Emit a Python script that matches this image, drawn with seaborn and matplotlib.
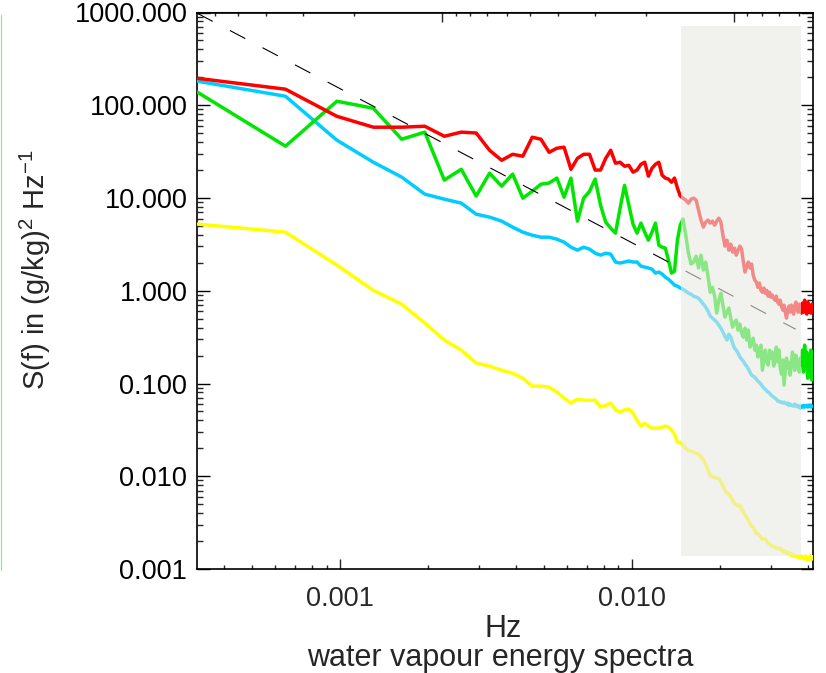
import numpy as np
import pandas as pd
import matplotlib
matplotlib.use("Agg")
import matplotlib.pyplot as plt
import matplotlib.ticker as mticker
from matplotlib.lines import Line2D
from matplotlib.patches import Rectangle
import seaborn as sns

# ---------------- data ----------------
# spectral estimates at harmonics k = 1..128 of a 3072 s record (Hz)
harmonic = np.arange(1, 129)
record_length_s = 3072.0

red_spec = [195, 149, 76, 58, 58, 59.4, 46.3, 51.3, 50.2, 32.7,
            25.5, 29.6, 28.2, 45.2, 43.0, 31.1, 34.4, 35.3, 20.4, 26.8,
            29.6, 29.6, 20.0, 20.0, 26.8, 32.7, 23.7, 24.3, 22.0, 22.5,
            19.0, 20.0, 23.1, 24.3, 17.2, 20.9, 23.1, 24.3, 17.6, 16.4,
            16.0, 14.8, 16.4, 12.8, 10.5, 9.96, 9.47, 8.8, 9.72, 9.96,
            9.47, 7.39, 5.77, 4.85, 5.49, 5.77, 5.36, 5.63, 5.10, 5.63,
            6.06, 5.49, 3.97, 3.03, 3.51, 2.74, 3.18, 2.61, 2.88, 2.42,
            2.74, 3.03, 2.81, 2.04, 1.59, 1.84, 2.04, 1.76, 1.94, 1.47,
            1.30, 1.24, 1.09, 1.21, 1.01, 0.964, 1.07, 0.940, 1.01, 0.874,
            0.964, 0.853, 0.897, 0.832, 0.792, 0.874, 0.754, 0.717, 0.792, 0.683,
            0.618, 0.700, 0.588, 0.507, 0.618, 0.683, 0.588, 0.700, 0.618, 0.560,
            0.683, 0.754, 0.650, 0.588, 0.717, 0.618, 0.574, 0.735, 0.588, 0.792,
            0.618, 0.560, 0.754, 0.588, 0.683, 0.574, 0.717, 0.618]

cyan_spec = [181.6, 125, 42, 24.3, 16.8, 11.0, 9.72, 8.8, 6.69, 6.22,
             5.63, 4.85, 4.28, 3.97, 3.78, 3.78, 3.60, 3.34, 2.95, 2.74,
             2.95, 2.81, 2.54, 2.42, 2.54, 2.48, 2.04, 1.99, 2.04, 2.09,
             2.04, 2.04, 1.84, 1.80, 1.76, 1.71, 1.55, 1.59, 1.51, 1.40,
             1.33, 1.24, 1.15, 1.12, 1.07, 1.04, 0.988, 0.940, 0.917, 0.874,
             0.853, 0.832, 0.773, 0.717, 0.666, 0.603, 0.533, 0.507, 0.482, 0.459,
             0.426, 0.395, 0.358, 0.324, 0.294, 0.340, 0.316, 0.273, 0.241, 0.229,
             0.213, 0.193, 0.183, 0.174, 0.162, 0.154, 0.143, 0.133, 0.123, 0.120,
             0.117, 0.111, 0.106, 0.103, 0.0983, 0.0936, 0.0891, 0.0869, 0.0828, 0.0808,
             0.0788, 0.075, 0.0732, 0.0714, 0.0696, 0.0679, 0.0646, 0.0646, 0.063, 0.063,
             0.0615, 0.063, 0.0615, 0.060, 0.0615, 0.058, 0.060, 0.058, 0.058, 0.0571,
             0.060, 0.0571, 0.058, 0.0557, 0.0571, 0.0543, 0.0571, 0.0557, 0.058, 0.0557,
             0.0571, 0.058, 0.0557, 0.0571, 0.058, 0.0557, 0.0571, 0.0571]

green_spec = [138, 36.2, 110.5, 92.8, 43.0, 51.3, 15.6, 20.4, 10.5, 18.5,
              13.4, 18.1, 9.96, 11.8, 14.1, 14.5, 16.4, 10.2, 16.4, 5.63,
              9.96, 11.8, 16.0, 8.36, 5.49, 4.73, 4.18, 7.77, 13.7, 8.36,
              5.23, 4.18, 5.36, 4.28, 3.51, 4.28, 5.36, 3.10, 2.95, 2.88,
              2.14, 1.55, 1.63, 3.51, 5.10, 5.91, 3.97, 2.54, 1.94, 2.04,
              2.36, 1.76, 2.42, 1.67, 2.04, 1.44, 0.964, 1.09, 0.874, 0.574,
              0.792, 0.940, 0.700, 0.520, 0.588, 0.650, 0.507, 0.405, 0.459, 0.482,
              0.376, 0.437, 0.349, 0.316, 0.395, 0.294, 0.376, 0.247, 0.266, 0.308,
              0.229, 0.259, 0.193, 0.229, 0.259, 0.139, 0.179, 0.229, 0.170, 0.158,
              0.229, 0.188, 0.218, 0.154, 0.188, 0.247, 0.170, 0.229, 0.147, 0.126,
              0.179, 0.096, 0.133, 0.188, 0.147, 0.170, 0.123, 0.154, 0.218, 0.179,
              0.139, 0.202, 0.162, 0.170, 0.133, 0.188, 0.158, 0.229, 0.133, 0.259,
              0.158, 0.218, 0.114, 0.179, 0.139, 0.229, 0.109, 0.170]

yellow_spec = [5.23, 4.28, 1.89, 1.01, 0.717, 0.448, 0.294, 0.229, 0.166, 0.154,
               0.139, 0.129, 0.114, 0.0936, 0.0936, 0.0913, 0.0808, 0.0696, 0.0615, 0.0679,
               0.066, 0.066, 0.066, 0.0557, 0.058, 0.0615, 0.052, 0.049, 0.052, 0.053,
               0.0479, 0.040, 0.0347, 0.0372, 0.0347, 0.033, 0.033, 0.033, 0.0339, 0.0347,
               0.0339, 0.0315, 0.0284, 0.0232, 0.0232, 0.0215, 0.0200, 0.0191, 0.0186, 0.0182,
               0.0177, 0.0173, 0.0161, 0.0150, 0.0133, 0.0117, 0.0101, 0.00985, 0.0096, 0.0096,
               0.0094, 0.0087, 0.0079, 0.0071, 0.0066, 0.0065, 0.0060, 0.0055, 0.0051, 0.0049,
               0.0048, 0.0049, 0.0044, 0.0041, 0.0038, 0.0036, 0.0034, 0.0031, 0.0029, 0.0028,
               0.0026, 0.0024, 0.0024, 0.0023, 0.0022, 0.0021, 0.0021, 0.0021, 0.0020, 0.0019,
               0.00185, 0.0018, 0.00176, 0.00176, 0.00172, 0.00168, 0.00168, 0.00164, 0.00168, 0.0016,
               0.00156, 0.00152, 0.00156, 0.00148, 0.00152, 0.00145, 0.00148, 0.0014, 0.00145, 0.00138,
               0.0014, 0.00135, 0.00138, 0.00135, 0.00138, 0.00131, 0.00138, 0.00131, 0.00135, 0.00128,
               0.00138, 0.00131, 0.00125, 0.00135, 0.00128, 0.00138, 0.00128, 0.00135]

# -5/3 reference line end points
ref_f = [3.25e-4, 0.0364]
ref_s = [980.0, 0.385]

# shaded band (Hz, spectral density)
band_f = [0.01468, 0.0379]
band_s = [0.00138, 715.0]

x_ticks = [0.001, 0.010]
x_ticklabels = ["0.001", "0.010"]
y_ticks = [0.001, 0.01, 0.1, 1, 10, 100, 1000]
y_ticklabels = ["0.001", "0.010", "0.100", "1.000", "10.000", "100.000", "1000.000"]
top_ticks = [10, 100]
top_ticklabels = ["10", "100"]
top_const = 0.224

freq = harmonic / record_length_s

# ---------------- style ----------------
sns.set_style("ticks")
plt.rcParams["font.family"] = ["Liberation Sans", "DejaVu Sans"]
plt.rcParams["mathtext.fontset"] = "custom"
plt.rcParams["mathtext.rm"] = "Liberation Sans"
plt.rcParams["mathtext.it"] = "Liberation Sans:italic"
plt.rcParams["lines.scale_dashes"] = False

TICK_FS = 19.5
YLABEL_FS = 21
XLABEL_FS = 22

fig = plt.figure(figsize=(8.26, 6.73), dpi=100)
ax = fig.add_axes([197 / 826, 1 - 569 / 673, (812.7 - 197) / 826, (569 - 12.5) / 673])

df = pd.DataFrame({"f": freq, "red": red_spec, "cyan": cyan_spec,
                   "green": green_spec, "yellow": yellow_spec})
colors = {"red": "#ff0000", "cyan": "#00ccff", "green": "#00e600", "yellow": "#ffff00"}
for name in ["yellow", "cyan", "green", "red"]:
    sns.lineplot(data=df, x="f", y=name, color=colors[name], lw=2.5,
                 ax=ax, zorder=3, estimator=None)

ax.plot(ref_f, ref_s, color="black", lw=0.8, dashes=(12.5, 14), zorder=4)

ax.add_patch(Rectangle((band_f[0], band_s[0]), band_f[1] - band_f[0],
                       band_s[1] - band_s[0], facecolor=(233/255, 232/255, 225/255),
                       alpha=0.6, edgecolor="none", zorder=5))

ax.set_xscale("log")
ax.set_yscale("log")
ax.set_xlim(3.24e-4, 0.04163)
ax.set_ylim(0.001, 1000)

ax.set_xticks(x_ticks)
ax.set_xticklabels(x_ticklabels)
ax.set_yticks(y_ticks)
ax.set_yticklabels(y_ticklabels)
ax.xaxis.set_minor_locator(mticker.LogLocator(base=10, subs=np.arange(2, 10)))
ax.yaxis.set_minor_locator(mticker.LogLocator(base=10, subs=np.arange(2, 10)))
ax.xaxis.set_minor_formatter(mticker.NullFormatter())
ax.yaxis.set_minor_formatter(mticker.NullFormatter())
ax.set_xlabel("")
ax.set_ylabel("")

ax.tick_params(axis="y", which="major", direction="in", length=9, width=1,
               left=True, right=True, labelsize=TICK_FS, pad=7, colors="black")
ax.tick_params(axis="y", which="minor", direction="in", length=4.5, width=1,
               left=True, right=True)
ax.tick_params(axis="x", which="major", direction="in", length=7.5, width=1,
               bottom=True, top=False, labelsize=TICK_FS, pad=12)
ax.tick_params(axis="x", which="minor", direction="in", length=3, width=1,
               bottom=True, top=False)
for sp in ax.spines.values():
    sp.set_visible(True)
    sp.set_linewidth(1.2)
    sp.set_color("black")

sec = ax.secondary_xaxis("top", functions=(lambda f: top_const / f,
                                           lambda p: top_const / p))
sec.set_xticks(top_ticks)
sec.set_xticklabels(top_ticklabels)
sec.xaxis.set_minor_locator(mticker.LogLocator(base=10, subs=np.arange(2, 10)))
sec.xaxis.set_minor_formatter(mticker.NullFormatter())
sec.tick_params(axis="x", which="major", direction="in", length=7.5, width=1,
                labelsize=TICK_FS, pad=5)
sec.tick_params(axis="x", which="minor", direction="in", length=3, width=1)

fig.text(35 / 826, 1 - 270 / 673, r"S(f) in (g/kg)$^{2}$ Hz$^{-1}$",
         rotation=90, ha="center", va="center", fontsize=YLABEL_FS)
fig.text(503 / 826, 1 - 629 / 673, "Hz", ha="center", va="center", fontsize=XLABEL_FS)
fig.text(500 / 826, 1 - 658 / 673, "water vapour energy spectra",
         ha="center", va="center", fontsize=XLABEL_FS)

fig.add_artist(Line2D([1.2 / 826, 1.2 / 826], [1 - 570 / 673, 1 - 15 / 673],
                      transform=fig.transFigure, color="#66ff66", lw=0.8))

fig.savefig("out.png", dpi=100)
